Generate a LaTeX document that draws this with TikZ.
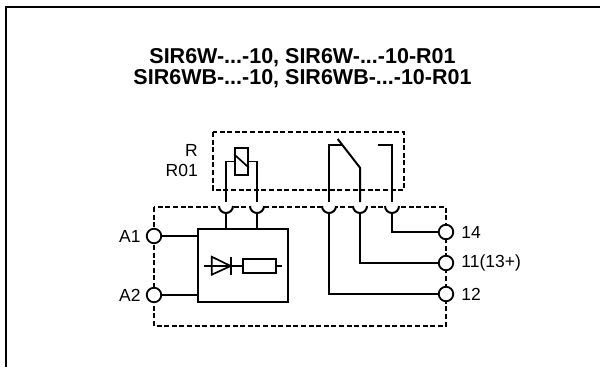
\documentclass[tikz,border=0pt]{standalone}
\usepackage{fontspec}
\setmainfont{Liberation Sans}
\usetikzlibrary{calc}
\usetikzlibrary{positioning}
\tikzset{
	wire/.style={line width=2pt,black},
	thin wire/.style={line width=1.7pt,black},
	dash box/.style={line width=1.6pt,dash pattern=on 5pt off 2.6pt,black},
	term/.style={circle,draw,line width=1.8pt,fill=white,minimum size=14.5pt,inner sep=0pt},
	lbl/.style={inner sep=0pt,font=\fontsize{17.5}{20}\selectfont},
	ttl/.style={inner sep=0pt,font=\fontsize{21.5}{24}\selectfont\bfseries},
	box/.style={draw,line width=2pt,inner sep=0pt,black}
}
\begin{document}
\begin{tikzpicture}[x=1pt,y=-1pt]
	\useasboundingbox (0,0) rectangle (600,367);
	\draw[line width=2pt] (6,367) -- (6,7) -- (600,7);
	\node[ttl] (t1) at (302.5,58) {SIR6W-...-10, SIR6W-...-10-R01};
	\node[ttl] (t2) at (302.5,79) {SIR6WB-...-10, SIR6WB-...-10-R01};
	\draw[dash box] (213,132) rectangle (404,190);
	\draw[dash box] (154,207) rectangle (446,326);
	\node[box,minimum width=90pt,minimum height=73pt] (blk) at (243,265.5) {};
	\node[term] (a1) at (154,236) {};
	\node[term] (a2) at (154,295) {};
	\node[term] (t14) at (446,232) {};
	\node[term] (t11) at (446,263) {};
	\node[term] (t12) at (446,294) {};
	\node[lbl,left=5pt of a1] (la1) {A1};
	\node[lbl,left=5pt of a2] (la2) {A2};
	\node[lbl,right=7pt of t14] (l14) {14};
	\node[lbl,right=7pt of t11] (l11) {11(13+)};
	\node[lbl,right=7pt of t12] (l12) {12};
	\node[lbl,anchor=east] (lr) at (198,150) {R};
	\node[lbl,anchor=east] (lr01) at (198,170) {R01};
	\foreach \n/\x in {s1/226,s2/257,s3/329,s4/360,s5/392}{
		\coordinate (\n) at (\x,213.5);
		\coordinate (\n u) at (\x,202);
		\draw[wire,fill=white] (\x-7,206) arc[start angle=180,end angle=0,radius=7];
	}
	\draw[wire] (a1) -- (a1 -| blk.west);
	\draw[wire] (a2) -- (a2 -| blk.west);
	\draw[wire] (s1) -- (s1 |- blk.north);
	\draw[wire] (s2) -- (s2 |- blk.north);
	\draw[wire] (s3) |- (t12);
	\draw[wire] (s4) |- (t11);
	\draw[wire] (s5) |- (t14);
	\node[box,line width=1.7pt,minimum width=13pt,minimum height=27pt] (coil) at (241.5,161.5) {};
	\draw[thin wire] (s1u) |- (coil.west);
	\draw[thin wire] (s2u) |- (coil.east);
	\draw[thin wire] (coil.west |- 0,154.3) -- (coil.east |- 0,167.7);
	\coordinate (b1) at (341.7,145);
	\coordinate (b2) at (337.7,139);
	\coordinate (b3) at (360,167.7);
	\coordinate (c1) at (378,145);
	\draw[wire] (s3u) |- (b1);
	\draw[wire] (b2) -- (b3) -- (s4u);
	\draw[wire] (s5u) |- (c1);
	\node[box,minimum width=33pt,minimum height=14pt] (res) at (259,266) {};
	\coordinate (dl) at (204.3,266);
	\coordinate (dr) at (282.3,266);
	\draw[thin wire] (dl) -- (res.west);
	\draw[thin wire] (res.east) -- (dr);
	\draw[thin wire] (211.7,256.7) -- (211.7,274.7) -- (230.7,266) -- cycle;
	\draw[thin wire] (231,256.7) -- (231,274.7);
\end{tikzpicture}
\end{document}
